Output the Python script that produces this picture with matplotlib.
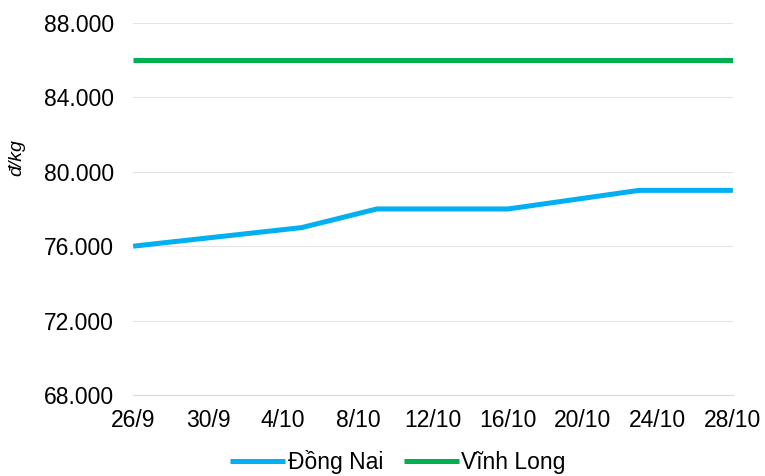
import datetime
import matplotlib
matplotlib.use("Agg")
import matplotlib.pyplot as plt
import matplotlib.ticker as mticker

plt.rcParams['font.family'] = ['Liberation Sans', 'DejaVu Sans']

# dữ liệu giá (đ/kg)
dong_nai_dates = ["2023-09-26", "2023-10-05", "2023-10-09", "2023-10-16", "2023-10-23", "2023-10-28"]
dong_nai_values = [76000, 77000, 78000, 78000, 79000, 79000]
vinh_long_dates = ["2023-09-26", "2023-10-28"]
vinh_long_values = [86000, 86000]

y_ticks = [68000, 72000, 76000, 80000, 84000, 88000]

def to_dates(lst):
    return [datetime.datetime.strptime(s, "%Y-%m-%d") for s in lst]

fig = plt.figure(figsize=(7.65, 4.76), dpi=100)
ax = fig.add_axes([0.174, 0.170, 0.784, 0.782])

ax.plot(to_dates(dong_nai_dates), dong_nai_values, color="#00B0F0", lw=3.6,
        label="Đồng Nai", solid_capstyle="butt")
ax.plot(to_dates(vinh_long_dates), vinh_long_values, color="#00B050", lw=3.6,
        label="Vĩnh Long", solid_capstyle="butt")

start = to_dates(["2023-09-26"])[0]
ax.set_xlim(start, to_dates(["2023-10-28"])[0])
ax.set_ylim(68000, 88000)
ax.set_yticks(y_ticks)
ax.yaxis.set_major_formatter(mticker.FuncFormatter(lambda v, p: f"{int(v):,}".replace(",", ".")))

# nhãn trục x mỗi 4 ngày
ticks = [start + datetime.timedelta(days=4 * i) for i in range(9)]
ax.set_xticks(ticks)
ax.set_xticklabels([f"{d.day}/{d.month}" for d in ticks])

ax.grid(axis="y", color="#E3E3E3", lw=0.8)
ax.set_axisbelow(True)
for s in ["top", "right", "left"]:
    ax.spines[s].set_visible(False)
ax.spines["bottom"].set_color("#D9D9D9")
ax.tick_params(axis="both", length=0, labelsize=16.5, colors="black")
ax.tick_params(axis="x", pad=10)
ax.tick_params(axis="y", pad=14)

fig.text(0.022, 0.67, "đ/kg", rotation=90, fontsize=14, style="italic",
         ha="center", va="center")

fig.legend(loc="lower center", bbox_to_anchor=(0.52, -0.04), ncol=2, frameon=False,
           fontsize=16.5, handlelength=2.4, handletextpad=0.1, columnspacing=0.9)

fig.savefig("out.png", dpi=100)
